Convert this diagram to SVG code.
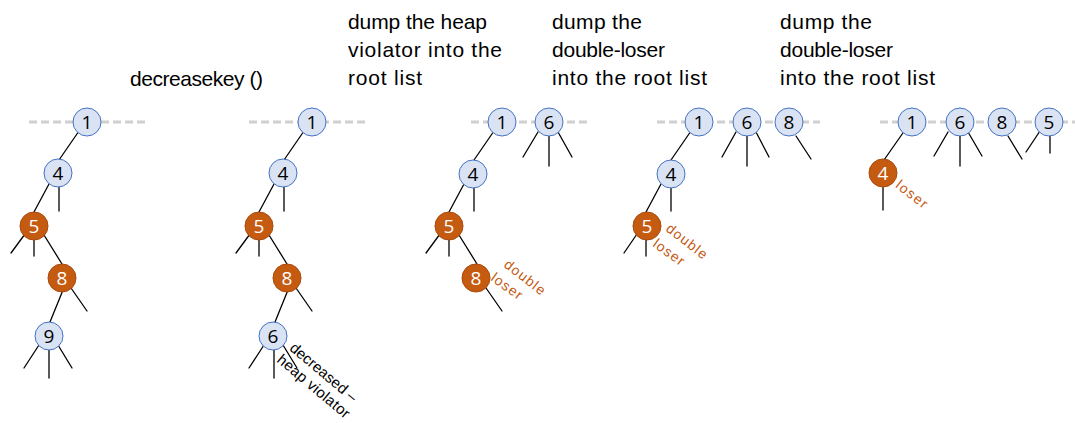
<svg xmlns="http://www.w3.org/2000/svg" width="1075" height="423" viewBox="0 0 1075 423">
<style>
.dash{stroke:#d0d0d0;stroke-width:3;stroke-dasharray:8 4;fill:none}
.e{stroke:#000;stroke-width:1.3;fill:none;stroke-linecap:round}
.b circle{fill:#dae3f3;stroke:#4472c4;stroke-width:1}
.o circle{fill:#c55a11;stroke:#a84b0c;stroke-width:1}
.b text{fill:#000}
.o text{fill:#fff}
.n text{font-family:"Open Sans","Noto Sans",sans-serif;font-size:19px;text-anchor:middle;dominant-baseline:central}
.h{font-family:"Liberation Sans",sans-serif;font-size:21px;fill:#000}
.r{font-family:"Liberation Sans",sans-serif;font-size:15px;text-anchor:middle;dominant-baseline:central}
.ol{fill:#c55a11;font-size:14px}
.bl{fill:#000}
</style>
<g id="headings">
<text class="h" x="130" y="86" textLength="133">decreasekey ()</text>
<text class="h" x="348" y="29" textLength="139">dump the heap</text>
<text class="h" x="348" y="57" textLength="154">violator into the</text>
<text class="h" x="348" y="85" textLength="74">root list</text>
<text class="h" x="552" y="29" textLength="90">dump the</text>
<text class="h" x="552" y="57" textLength="113">double-loser</text>
<text class="h" x="552" y="85" textLength="155">into the root list</text>
<text class="h" x="780" y="29" textLength="92">dump the</text>
<text class="h" x="780" y="57" textLength="113">double-loser</text>
<text class="h" x="780" y="85" textLength="155">into the root list</text>
</g>
<g id="rootlists">
<line class="dash" x1="29" y1="122" x2="147" y2="122"/>
<line class="dash" x1="249" y1="122" x2="367" y2="122"/>
<line class="dash" x1="471" y1="122" x2="588" y2="122"/>
<line class="dash" x1="657" y1="122" x2="820" y2="122"/>
<line class="dash" x1="880" y1="122" x2="1075" y2="122"/>
</g>
<g id="connectors">
<!-- panel 1 -->
<line class="e" x1="79" y1="131" x2="59" y2="160"/>
<line class="e" x1="49" y1="184" x2="34" y2="212"/>
<line class="e" x1="59" y1="187" x2="59" y2="211"/>
<line class="e" x1="25" y1="234" x2="11" y2="253"/>
<line class="e" x1="34" y1="240" x2="34" y2="256"/>
<line class="e" x1="44" y1="235" x2="62" y2="264"/>
<line class="e" x1="63" y1="290" x2="50" y2="322"/>
<line class="e" x1="71" y1="288" x2="87" y2="311"/>
<line class="e" x1="39" y1="345" x2="24" y2="368"/>
<line class="e" x1="49" y1="350" x2="49" y2="378"/>
<line class="e" x1="58" y1="345" x2="72" y2="368"/>
<!-- panel 2 -->
<line class="e" x1="304" y1="131" x2="284" y2="160"/>
<line class="e" x1="274" y1="184" x2="259" y2="212"/>
<line class="e" x1="284" y1="187" x2="284" y2="211"/>
<line class="e" x1="250" y1="234" x2="236" y2="253"/>
<line class="e" x1="259" y1="240" x2="259" y2="256"/>
<line class="e" x1="269" y1="235" x2="287" y2="264"/>
<line class="e" x1="288" y1="290" x2="275" y2="322"/>
<line class="e" x1="296" y1="288" x2="312" y2="311"/>
<line class="e" x1="264" y1="345" x2="249" y2="368"/>
<line class="e" x1="274" y1="350" x2="274" y2="378"/>
<line class="e" x1="283" y1="345" x2="297" y2="368"/>
<!-- panel 3 -->
<line class="e" x1="494" y1="131" x2="474" y2="160"/>
<line class="e" x1="464" y1="184" x2="449" y2="212"/>
<line class="e" x1="474" y1="187" x2="474" y2="211"/>
<line class="e" x1="440" y1="234" x2="426" y2="253"/>
<line class="e" x1="449" y1="240" x2="449" y2="256"/>
<line class="e" x1="459" y1="235" x2="477" y2="264"/>
<line class="e" x1="486" y1="288" x2="502" y2="311"/>
<line class="e" x1="538" y1="132" x2="523" y2="157"/>
<line class="e" x1="549" y1="136" x2="549" y2="166"/>
<line class="e" x1="558" y1="132" x2="572" y2="157"/>
<!-- panel 4 -->
<line class="e" x1="691" y1="131" x2="671" y2="160"/>
<line class="e" x1="661" y1="184" x2="646" y2="212"/>
<line class="e" x1="671" y1="187" x2="671" y2="211"/>
<line class="e" x1="637" y1="234" x2="624" y2="253"/>
<line class="e" x1="646" y1="240" x2="646" y2="256"/>
<line class="e" x1="736" y1="132" x2="722" y2="157"/>
<line class="e" x1="747" y1="136" x2="747" y2="166"/>
<line class="e" x1="756" y1="132" x2="769" y2="157"/>
<line class="e" x1="796" y1="136" x2="811" y2="159"/>
<!-- panel 5 -->
<line class="e" x1="905" y1="130" x2="884" y2="160"/>
<line class="e" x1="883" y1="187" x2="883" y2="210"/>
<line class="e" x1="948" y1="132" x2="934" y2="156"/>
<line class="e" x1="960" y1="136" x2="960" y2="166"/>
<line class="e" x1="968" y1="132" x2="982" y2="156"/>
<line class="e" x1="1008" y1="136" x2="1022" y2="159"/>
<line class="e" x1="1040" y1="131" x2="1026" y2="152"/>
<line class="e" x1="1050" y1="136" x2="1050" y2="153"/>
</g>
<!-- panel 1 nodes -->
<g id="p1-n1" class="n b"><circle cx="87" cy="122" r="14"/><text x="87" y="122">1</text></g>
<g id="p1-n4" class="n b"><circle cx="58" cy="173" r="14"/><text x="58" y="173">4</text></g>
<g id="p1-n5" class="n o"><circle cx="34" cy="226" r="14"/><text x="34" y="226">5</text></g>
<g id="p1-n8" class="n o"><circle cx="62" cy="278" r="14"/><text x="62" y="278">8</text></g>
<g id="p1-n9" class="n b"><circle cx="49" cy="336" r="14"/><text x="49" y="336">9</text></g>
<!-- panel 2 nodes -->
<g id="p2-n1" class="n b"><circle cx="312" cy="122" r="14"/><text x="312" y="122">1</text></g>
<g id="p2-n4" class="n b"><circle cx="283" cy="173" r="14"/><text x="283" y="173">4</text></g>
<g id="p2-n5" class="n o"><circle cx="259" cy="226" r="14"/><text x="259" y="226">5</text></g>
<g id="p2-n8" class="n o"><circle cx="287" cy="278" r="14"/><text x="287" y="278">8</text></g>
<g id="p2-n6" class="n b"><circle cx="273" cy="336" r="14"/><text x="273" y="336">6</text></g>
<g id="p2-label">
<text class="r bl" transform="translate(324,372) rotate(40)" textLength="83">decreased –</text>
<text class="r bl" transform="translate(314,386) rotate(40)" textLength="90">heap violator</text>
</g>
<!-- panel 3 nodes -->
<g id="p3-n1" class="n b"><circle cx="502" cy="122" r="14"/><text x="502" y="122">1</text></g>
<g id="p3-n6" class="n b"><circle cx="549" cy="122" r="14"/><text x="549" y="122">6</text></g>
<g id="p3-n4" class="n b"><circle cx="473" cy="174" r="14"/><text x="473" y="174">4</text></g>
<g id="p3-n5" class="n o"><circle cx="449" cy="226" r="14"/><text x="449" y="226">5</text></g>
<g id="p3-n8" class="n o"><circle cx="476" cy="278" r="14"/><text x="476" y="278">8</text></g>
<g id="p3-label">
<text class="r ol" transform="translate(525,277) rotate(38)" textLength="48">double</text>
<text class="r ol" transform="translate(507,286) rotate(36)" textLength="35">loser</text>
</g>
<!-- panel 4 nodes -->
<g id="p4-n1" class="n b"><circle cx="699" cy="122" r="14"/><text x="699" y="122">1</text></g>
<g id="p4-n6" class="n b"><circle cx="747" cy="122" r="14"/><text x="747" y="122">6</text></g>
<g id="p4-n8" class="n b"><circle cx="789" cy="122" r="14"/><text x="789" y="122">8</text></g>
<g id="p4-n4" class="n b"><circle cx="671" cy="174" r="14"/><text x="671" y="174">4</text></g>
<g id="p4-n5" class="n o"><circle cx="647" cy="226" r="14"/><text x="647" y="226">5</text></g>
<g id="p4-label">
<text class="r ol" transform="translate(687,241) rotate(38)" textLength="48">double</text>
<text class="r ol" transform="translate(669,252) rotate(36)" textLength="35">loser</text>
</g>
<!-- panel 5 nodes -->
<g id="p5-n1" class="n b"><circle cx="912" cy="122" r="14"/><text x="912" y="122">1</text></g>
<g id="p5-n6" class="n b"><circle cx="960" cy="122" r="14"/><text x="960" y="122">6</text></g>
<g id="p5-n8" class="n b"><circle cx="1002" cy="122" r="14"/><text x="1002" y="122">8</text></g>
<g id="p5-n5" class="n b"><circle cx="1049" cy="122" r="14"/><text x="1049" y="122">5</text></g>
<g id="p5-n4" class="n o"><circle cx="883" cy="173" r="14"/><text x="883" y="173">4</text></g>
<g id="p5-label">
<text class="r ol" transform="translate(912,194) rotate(38)" textLength="36">loser</text>
</g>
</svg>
